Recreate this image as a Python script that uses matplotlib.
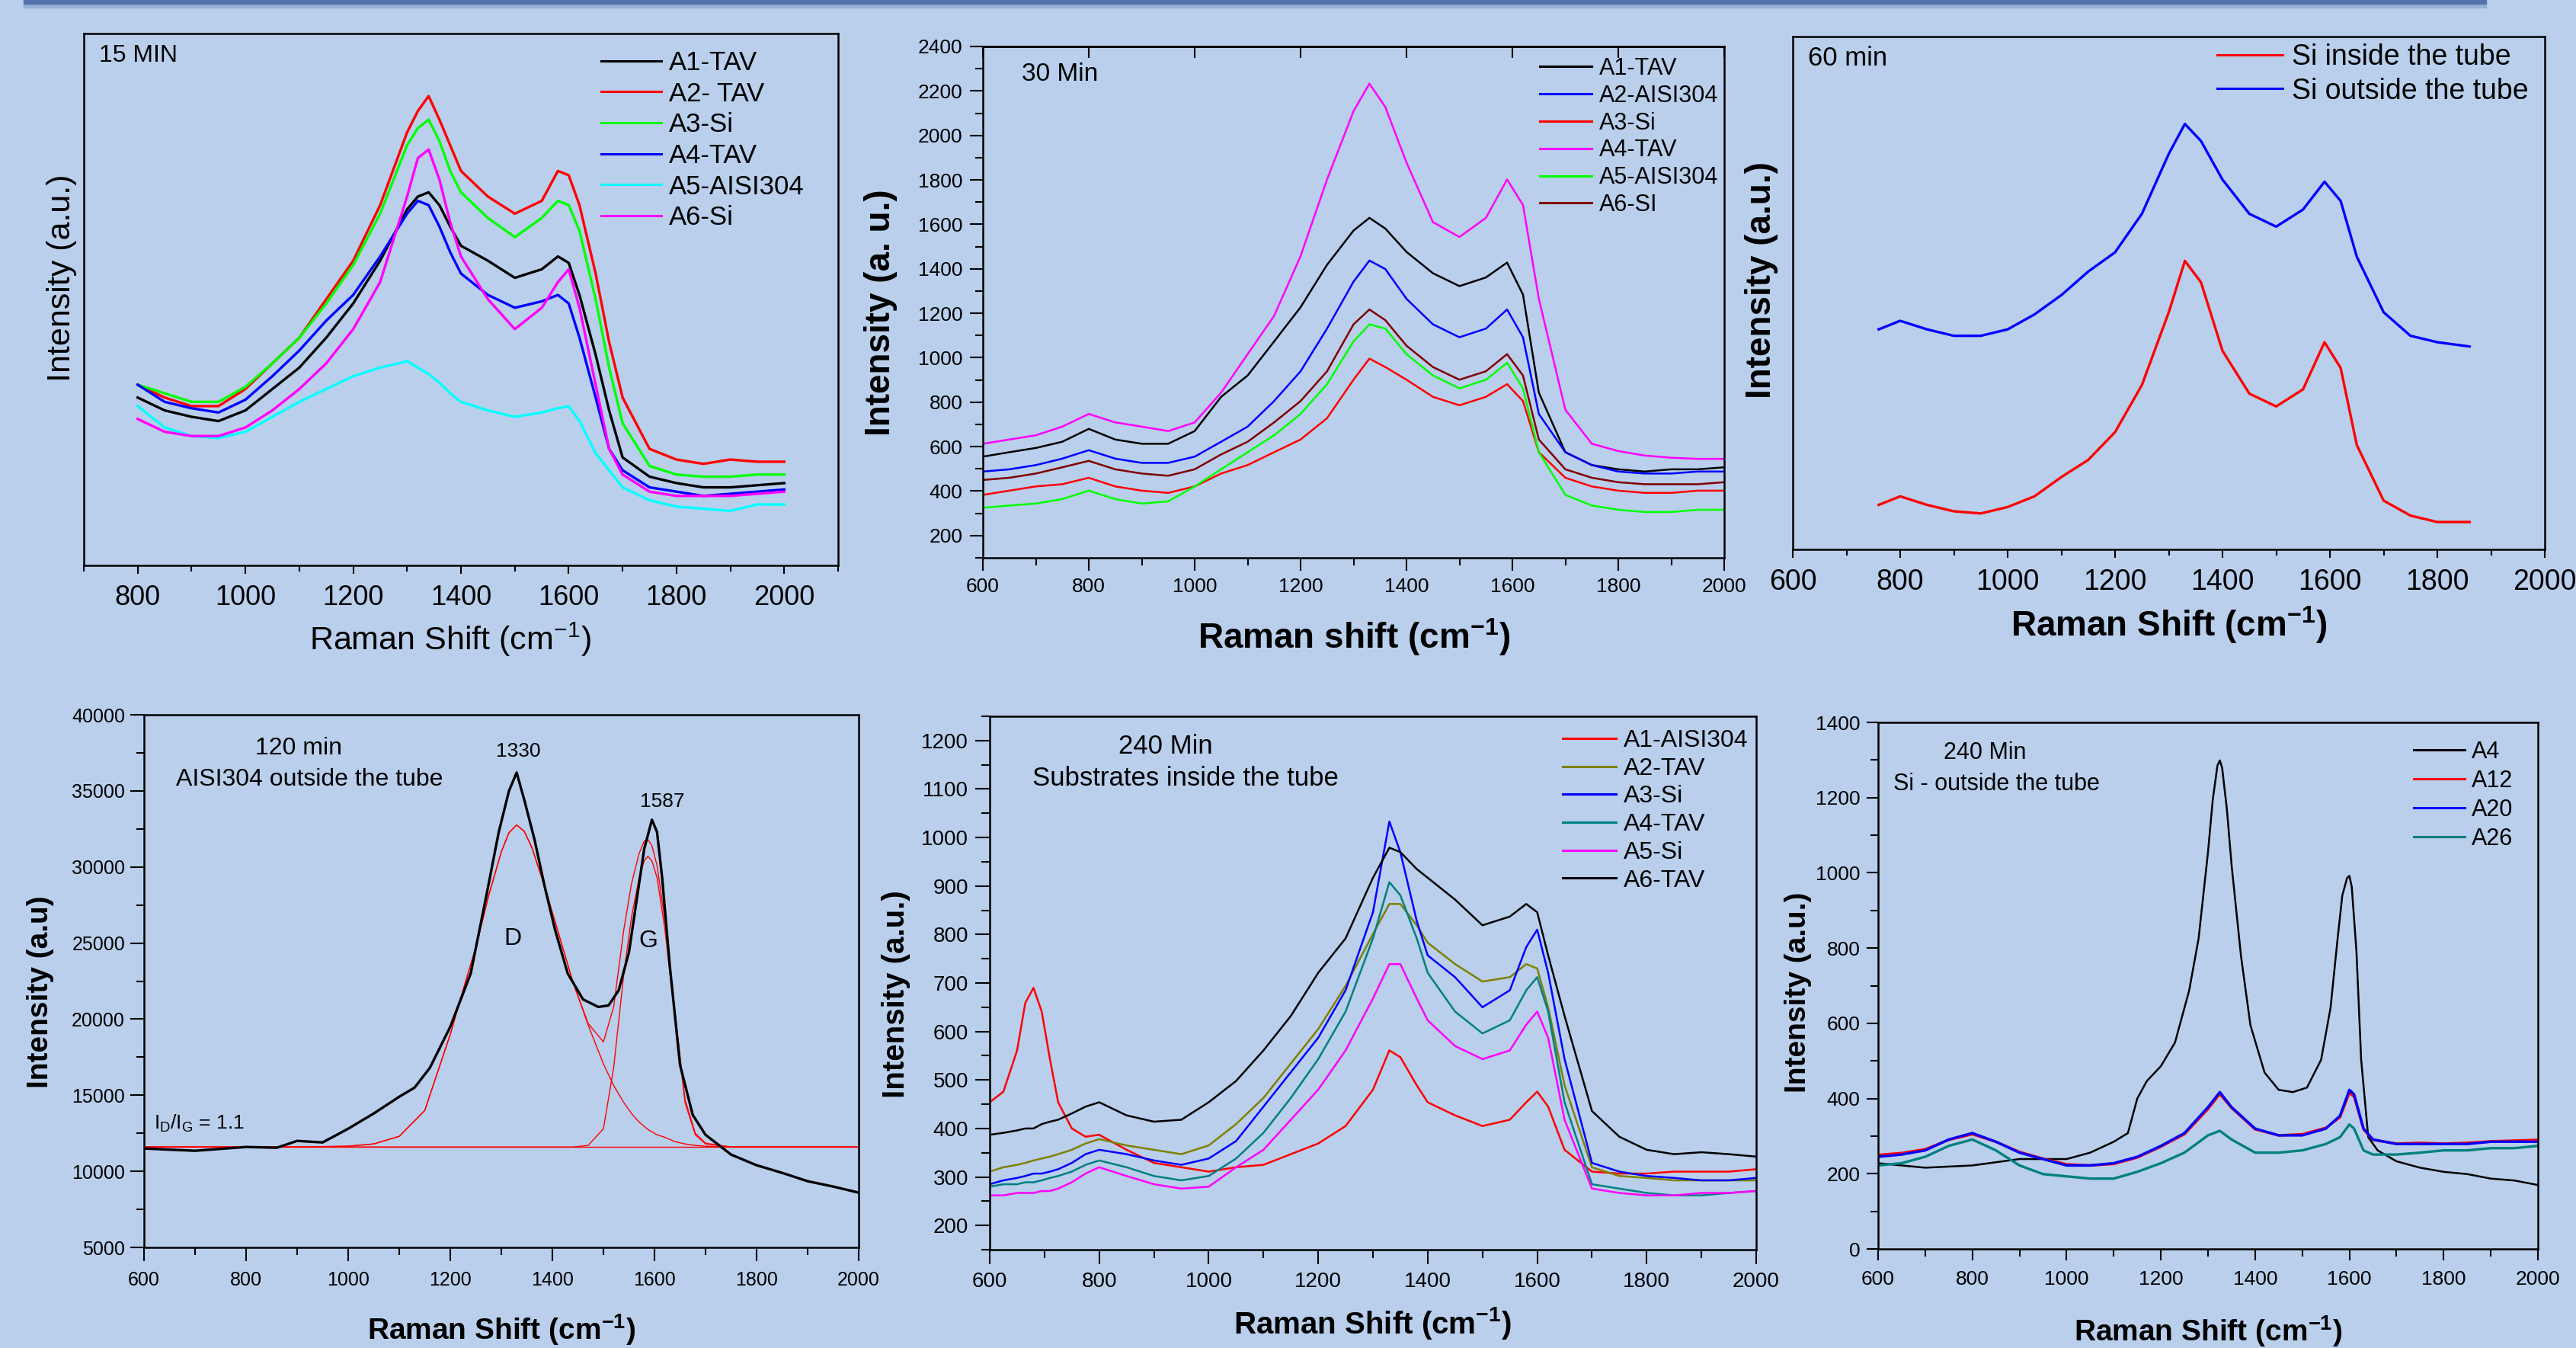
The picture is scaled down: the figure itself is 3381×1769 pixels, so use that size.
import matplotlib
matplotlib.use("Agg")
import matplotlib.pyplot as plt
from matplotlib.patches import Rectangle
from matplotlib.ticker import MultipleLocator, NullLocator

plt.rcParams['font.family'] = ['Liberation Sans', 'DejaVu Sans']
plt.rcParams['mathtext.fontset'] = 'custom'
plt.rcParams['mathtext.rm'] = 'Liberation Sans'
plt.rcParams['mathtext.it'] = 'Liberation Sans:italic'
plt.rcParams['mathtext.bf'] = 'Liberation Sans:bold'

# ---------------- data ----------------
# 15 min (arbitrary units)
p15_x = [800, 850, 900, 950, 1000, 1050, 1100, 1150, 1200, 1250, 1300, 1320, 1340, 1360, 1380, 1400,
         1450, 1500, 1550, 1580, 1600, 1620, 1650, 1675, 1700, 1750, 1800, 1850, 1900, 1950, 2000]
p15_a1 = [314, 290, 278, 270, 290, 330, 370, 426, 490, 570, 666, 690, 698, 674, 634, 598,
          570, 538, 554, 578, 566, 506, 394, 290, 202, 166, 154, 146, 146, 150, 154]
p15_a2 = [338, 314, 298, 298, 330, 378, 426, 498, 570, 674, 810, 850, 878, 834, 786, 738,
          690, 658, 682, 738, 730, 674, 546, 418, 314, 218, 198, 190, 198, 194, 194]
p15_a3 = [338, 322, 306, 306, 334, 378, 426, 490, 562, 658, 786, 818, 834, 794, 738, 698,
          650, 614, 650, 682, 674, 626, 498, 370, 266, 186, 170, 166, 166, 170, 170]
p15_a4 = [338, 306, 294, 286, 310, 354, 402, 458, 506, 578, 658, 682, 674, 634, 586, 546,
          506, 482, 494, 506, 490, 426, 314, 218, 178, 146, 138, 130, 134, 138, 142]
p15_a5 = [298, 258, 242, 238, 250, 278, 306, 330, 354, 370, 382, 370, 358, 342, 322, 306,
          290, 278, 286, 294, 298, 270, 210, 178, 146, 122, 110, 106, 102, 114, 114]
p15_a6 = [274, 250, 242, 242, 258, 290, 330, 378, 442, 530, 690, 762, 778, 722, 642, 578,
          498, 442, 482, 530, 554, 482, 338, 218, 170, 138, 130, 130, 130, 134, 138]
p15_names = ['A1-TAV', 'A2- TAV', 'A3-Si', 'A4-TAV', 'A5-AISI304', 'A6-Si']
p15_colors = ['#000000', '#ff0000', '#00ff00', '#0000ff', '#00ffff', '#ff00ff']

# 30 min
p30_x = [600, 650, 700, 750, 800, 850, 900, 950, 1000, 1050, 1100, 1150, 1200, 1250, 1300, 1330,
         1360, 1400, 1450, 1500, 1550, 1590, 1620, 1650, 1700, 1750, 1800, 1850, 1900, 1950, 2000]
p30_a1 = [555, 575, 594, 622, 680, 632, 613, 613, 670, 824, 920, 1073, 1227, 1418, 1572, 1629,
          1581, 1476, 1380, 1322, 1361, 1428, 1284, 843, 575, 517, 498, 488, 498, 498, 507]
p30_a2 = [488, 498, 517, 546, 584, 546, 527, 527, 555, 622, 690, 805, 939, 1131, 1342, 1437,
          1399, 1265, 1150, 1092, 1131, 1217, 1092, 747, 575, 517, 488, 479, 479, 488, 488]
p30_a3 = [383, 402, 421, 431, 460, 421, 402, 392, 421, 479, 517, 575, 632, 728, 901, 996,
          958, 901, 824, 786, 824, 881, 805, 575, 460, 421, 402, 392, 392, 402, 402]
p30_a4 = [613, 632, 651, 690, 747, 709, 690, 670, 709, 843, 1016, 1188, 1457, 1802, 2109, 2233,
          2128, 1878, 1610, 1543, 1629, 1802, 1687, 1265, 766, 613, 580, 560, 550, 545, 545]
p30_a5 = [325, 335, 344, 364, 402, 364, 344, 354, 421, 498, 575, 651, 747, 881, 1073, 1150,
          1131, 1016, 920, 862, 901, 977, 862, 575, 383, 335, 316, 306, 306, 316, 316]
p30_a6 = [450, 460, 479, 507, 536, 498, 479, 469, 498, 565, 622, 709, 805, 939, 1150, 1217,
          1169, 1054, 958, 901, 939, 1016, 920, 632, 498, 460, 440, 431, 431, 431, 440]
p30_names = ['A1-TAV', 'A2-AISI304', 'A3-Si', 'A4-TAV', 'A5-AISI304', 'A6-SI']
p30_colors = ['#000000', '#0000ff', '#ff0000', '#ff00ff', '#00ff00', '#800000']

# 60 min (arbitrary units)
p60_x = [760, 800, 850, 900, 950, 1000, 1050, 1100, 1150, 1200, 1250, 1300, 1330, 1360, 1400,
         1450, 1500, 1550, 1590, 1620, 1650, 1700, 1750, 1800, 1860]
p60_inside = [104, 124, 104, 89, 84, 99, 124, 169, 209, 274, 384, 554, 674, 624, 464,
              364, 334, 374, 484, 424, 244, 114, 79, 64, 64]
p60_outside = [514, 534, 514, 499, 499, 514, 549, 594, 649, 694, 784, 924, 994, 954, 864,
               784, 754, 794, 859, 814, 684, 554, 499, 484, 474]

# 120 min, AISI304 outside the tube, with D / G fit
p120_x = [600, 700, 800, 860, 900, 950, 1000, 1050, 1100, 1130, 1160, 1200, 1240, 1270, 1295, 1315,
          1330, 1345, 1365, 1385, 1405, 1430, 1460, 1490, 1510, 1530, 1550, 1565, 1580, 1595, 1605,
          1615, 1630, 1650, 1675, 1700, 1750, 1800, 1850, 1900, 1950, 2000]
p120_y = [11500, 11350, 11600, 11550, 12000, 11900, 12800, 13800, 14900, 15500, 16800, 19500, 23000,
          28000, 32300, 35000, 36200, 34400, 31800, 28700, 25900, 23000, 21300, 20800, 20900, 21900,
          24400, 27800, 31200, 33100, 32300, 29300, 23500, 17000, 13700, 12400, 11100, 10400, 9900,
          9350, 9000, 8600]
fit_x = [600, 900, 1000, 1050, 1100, 1150, 1200, 1225, 1250, 1275, 1300, 1315, 1330, 1345, 1360, 1385,
         1410, 1440, 1470, 1500, 1520, 1540, 1555, 1570, 1580, 1587, 1595, 1605, 1620, 1640, 1660,
         1680, 1700, 1750, 2000]
fit_d = [11600, 11600, 11650, 11800, 12300, 14000, 19000, 21900, 24700, 28100, 31000, 32250, 32760,
         32340, 31260, 28700, 25860, 22460, 19620, 17060, 15640, 14510, 13800, 13230, 12950, 12750,
         12600, 12400, 12240, 11950, 11800, 11700, 11650, 11600, 11600]
fit_g = [11600, 11600, 11600, 11600, 11600, 11600, 11600, 11600, 11600, 11600, 11600, 11600, 11600,
         11600, 11600, 11600, 11600, 11600, 11700, 12800, 16800, 23000, 26700, 29300, 30400, 30700,
         30400, 29300, 26000, 20200, 14500, 12400, 11800, 11600, 11600]
fit_sum = [11600, 11600, 11650, 11800, 12300, 14000, 19000, 21900, 24700, 28100, 31000, 32250, 32760,
           32340, 31260, 28700, 25860, 22460, 19720, 18500, 20800, 25900, 28900, 30900, 31700, 31800,
           31400, 30100, 26600, 20500, 14700, 12500, 11850, 11600, 11600]
fit_base_x = [600, 2000]
fit_base = [11600, 11600]

# 240 min, substrates inside the tube
p240i_x = [600, 625, 650, 665, 680, 695, 710, 725, 750, 775, 800, 850, 900, 950, 1000, 1050, 1100,
           1150, 1200, 1250, 1300, 1330, 1350, 1380, 1400, 1450, 1500, 1550, 1580, 1600, 1620, 1650,
           1700, 1750, 1800, 1850, 1900, 1950, 2000]
p240i_a1 = [454, 476, 561, 659, 690, 641, 543, 454, 400, 383, 387, 356, 329, 320, 311, 320, 325,
            347, 369, 405, 480, 561, 547, 489, 454, 427, 405, 418, 454, 476, 445, 356,
            311, 307, 307, 311, 311, 311, 316]
p240i_a2 = [311, 320, 325, 329, 334, 338, 342, 347, 356, 369, 378, 365, 356, 347, 365, 409, 463,
            534, 605, 694, 801, 863, 863, 819, 783, 739, 703, 712, 739, 730, 650, 489,
            320, 302, 298, 293, 293, 293, 293]
p240i_a3 = [285, 293, 298, 302, 307, 307, 311, 316, 329, 347, 356, 347, 334, 325, 338, 374, 445,
            516, 587, 685, 846, 1033, 970, 828, 757, 712, 650, 685, 774, 810, 721, 543,
            329, 311, 302, 298, 293, 293, 298]
p240i_a4 = [280, 285, 285, 289, 289, 293, 298, 302, 311, 325, 334, 320, 302, 293, 302, 338, 391,
            463, 543, 641, 792, 908, 881, 792, 721, 641, 596, 623, 685, 712, 641, 454,
            285, 276, 267, 262, 262, 267, 271]
p240i_a5 = [262, 262, 267, 267, 267, 271, 271, 276, 289, 307, 320, 302, 285, 276, 280, 320, 356,
            418, 480, 561, 668, 739, 739, 668, 623, 570, 543, 561, 614, 641, 587, 418,
            276, 267, 262, 262, 267, 267, 271]
p240i_a6 = [387, 391, 396, 400, 400, 409, 414, 418, 431, 445, 454, 427, 414, 418, 454, 498, 561,
            632, 721, 792, 917, 979, 970, 935, 917, 872, 819, 837, 863, 846, 757, 632,
            436, 383, 356, 347, 351, 347, 342]
p240i_names = ['A1-AISI304', 'A2-TAV', 'A3-Si', 'A4-TAV', 'A5-Si', 'A6-TAV']
p240i_colors = ['#ff0000', '#808000', '#0000ff', '#008080', '#ff00ff', '#000000']

# 240 min, Si outside the tube
p240o_a4_x = [600, 700, 800, 900, 1000, 1050, 1100, 1130, 1150, 1170, 1200, 1230, 1260, 1280, 1300,
              1310, 1320, 1325, 1330, 1340, 1350, 1370, 1390, 1420, 1450, 1480, 1510, 1540, 1560,
              1575, 1585, 1595, 1600, 1605, 1615, 1625, 1640, 1660, 1700, 1750, 1800, 1850, 1900,
              1950, 2000]
p240o_a4 = [228, 216, 222, 239, 239, 256, 285, 308, 400, 446, 486, 549, 687, 825, 1055,
            1193, 1285, 1299, 1279, 1170, 1021, 779, 595, 469, 423, 417, 429, 503, 641,
            825, 940, 986, 992, 963, 791, 503, 297, 262, 233, 216, 205, 199, 187, 182, 170]
p240o_x = [600, 650, 700, 750, 800, 850, 900, 950, 1000, 1050, 1100, 1150, 1200, 1250, 1300, 1325,
           1350, 1400, 1450, 1500, 1550, 1580, 1600, 1610, 1630, 1650, 1700, 1750, 1800, 1850, 1900,
           1950, 2000]
p240o_a12 = [250, 255, 265, 290, 305, 285, 258, 240, 225, 222, 226, 243, 272, 305, 372, 412,
             375, 318, 302, 305, 322, 350, 415, 405, 318, 290, 280, 282, 280, 282, 286, 288, 290]
p240o_a20 = [245, 251, 262, 291, 308, 285, 256, 239, 222, 222, 228, 245, 274, 308, 377, 417,
             377, 320, 302, 302, 320, 354, 423, 411, 320, 291, 279, 279, 279, 279, 285, 285, 285]
p240o_a26 = [222, 228, 245, 274, 291, 262, 222, 199, 193, 187, 187, 205, 228, 256, 302, 314,
             291, 256, 256, 262, 279, 297, 331, 320, 262, 251, 251, 256, 262, 262, 268, 268, 274]

# ---------------- layout (pixel boxes: left, top, right, bottom) ----------------
W, H = 3381, 1769
BG = '#b9cfec'
BOX1 = (110, 44, 1100, 742)
BOX2 = (1290, 61, 2263, 732)
BOX3 = (2353, 48, 3340, 721)
BOX4 = (189, 938, 1127, 1637)
BOX5 = (1299, 940, 2305, 1640)
BOX6 = (2465, 948, 3331, 1639)

fig = plt.figure(figsize=(W / 100, H / 100), dpi=100, facecolor=BG)

# dark strip at the top of the slide
fig.patches.append(Rectangle((31 / W, 1 - 10 / H), (3263 - 31) / W, 5 / H,
                             transform=fig.transFigure, color='#97b0d6', zorder=0))
fig.patches.append(Rectangle((31 / W, 1 - 5 / H), (3263 - 31) / W, 5 / H,
                             transform=fig.transFigure, color='#5272a8', zorder=1))


def make_axes(box):
    l, t, r, b = box
    ax = fig.add_axes([l / W, 1 - b / H, (r - l) / W, (b - t) / H])
    ax.set_facecolor('none')
    for s in ax.spines.values():
        s.set_linewidth(1.8)
    return ax


def frac(box, x, y):
    l, t, r, b = box
    return (x - l) / (r - l), (b - y) / (b - t)


def labels(ax, box, xl, yl, xpos, ypos, size, weight):
    ax.set_xlabel(xl, fontsize=size, fontweight=weight)
    ax.set_ylabel(yl, fontsize=size, fontweight=weight)
    ax.xaxis.label.set_va('center')
    ax.yaxis.label.set_va('center')
    ax.xaxis.set_label_coords(*frac(box, *xpos))
    ax.yaxis.set_label_coords(*frac(box, *ypos))


def legend(ax, x, y, fs, ls, hl, hp):
    leg = ax.legend(loc='upper left', bbox_to_anchor=(x / W, 1 - y / H), bbox_transform=fig.transFigure,
                    frameon=False, fontsize=fs, labelspacing=ls, handlelength=hl, handletextpad=hp,
                    borderpad=0, borderaxespad=0)
    for line in leg.get_lines():
        line.set_linewidth(2.2)


def note(ax, box, x, y, s, size, ha='center'):
    ax.text(*frac(box, x, y), s, transform=ax.transAxes, fontsize=size, ha=ha, va='center')


def ticks(ax, xlab, ylab, xpad, ypad, majlen, minlen):
    ax.tick_params(which='both', direction='out', width=1.5, top=False, right=False)
    ax.tick_params(which='major', length=majlen)
    ax.tick_params(which='minor', length=minlen)
    ax.tick_params(axis='x', labelsize=xlab, pad=xpad)
    ax.tick_params(axis='y', labelsize=ylab, pad=ypad)


XLAB_REG = 'Raman Shift (cm$^{-1}$)'
XLAB_BOLD = r'Raman Shift (cm$^{\mathbf{-1}}$)'

# ---- 15 min ----
ax1 = make_axes(BOX1)
for name, ys, c in zip(p15_names, [p15_a1, p15_a2, p15_a3, p15_a4, p15_a5, p15_a6], p15_colors):
    ax1.plot(p15_x, ys, color=c, lw=2.4, label=name)
ax1.set_xlim(700, 2100)
ax1.set_ylim(0, 995)
ax1.xaxis.set_major_locator(MultipleLocator(200))
ax1.xaxis.set_minor_locator(MultipleLocator(100))
ax1.yaxis.set_major_locator(NullLocator())
ticks(ax1, 26, 26, 10, 5, 8, 6)
labels(ax1, BOX1, XLAB_REG, 'Intensity (a.u.)', (591, 839), (81, 365), 31, 'normal')
legend(ax1, 789, 66, 25, 0.22, 2.28, 0.29)
note(ax1, BOX1, 130, 73, '15 MIN', 23, ha='left')

# ---- 30 min ----
ax2 = make_axes(BOX2)
for name, ys, c in zip(p30_names, [p30_a1, p30_a2, p30_a3, p30_a4, p30_a5, p30_a6], p30_colors):
    ax2.plot(p30_x, ys, color=c, lw=1.8, label=name)
ax2.set_xlim(600, 2000)
ax2.set_ylim(100, 2400)
ax2.xaxis.set_major_locator(MultipleLocator(200))
ax2.xaxis.set_minor_locator(MultipleLocator(100))
ax2.yaxis.set_major_locator(MultipleLocator(200))
ax2.yaxis.set_minor_locator(MultipleLocator(100))
ticks(ax2, 19, 19, 7, 7, 12, 7)
top2 = ax2.secondary_xaxis('top')
top2.xaxis.set_major_locator(MultipleLocator(200))
top2.tick_params(direction='in', length=11, width=1.5, labeltop=False)
top2.spines['top'].set_linewidth(1.8)
labels(ax2, BOX2, r'Raman shift (cm$^{\mathbf{-1}}$)', 'Intensity (a. u.)', (1777, 836), (1156, 410), 33, 'bold')
legend(ax2, 2021, 75, 22, 0.19, 2.22, 0.33)
note(ax2, BOX2, 1341, 97, '30 Min', 24, ha='left')

# ---- 60 min ----
ax3 = make_axes(BOX3)
ax3.plot(p60_x, p60_inside, color='#ff0000', lw=2.4, label='Si inside the tube')
ax3.plot(p60_x, p60_outside, color='#0000ff', lw=2.4, label='Si outside the tube')
ax3.set_xlim(600, 2000)
ax3.set_ylim(0, 1198)
ax3.xaxis.set_major_locator(MultipleLocator(200))
ax3.xaxis.set_minor_locator(MultipleLocator(100))
ax3.yaxis.set_major_locator(NullLocator())
ticks(ax3, 27, 27, 10, 5, 8, 6)
labels(ax3, BOX3, XLAB_BOLD, 'Intensity (a.u.)', (2847, 820), (2312, 368), 33, 'bold')
legend(ax3, 2910, 57, 27, 0.23, 2.3, 0.32)
note(ax3, BOX3, 2373, 76, '60 min', 25, ha='left')

# ---- 120 min ----
ax4 = make_axes(BOX4)
ax4.plot(fit_base_x, fit_base, color='#ff0000', lw=1.0)
ax4.plot(fit_x, fit_d, color='#ff0000', lw=1.0)
ax4.plot(fit_x, fit_g, color='#ff0000', lw=1.0)
ax4.plot(fit_x, fit_sum, color='#ff0000', lw=1.0)
ax4.plot(p120_x, p120_y, color='#000000', lw=2.4)
ax4.set_xlim(600, 2000)
ax4.set_ylim(5000, 40000)
ax4.xaxis.set_major_locator(MultipleLocator(200))
ax4.xaxis.set_minor_locator(MultipleLocator(100))
ax4.yaxis.set_major_locator(MultipleLocator(5000))
ax4.yaxis.set_minor_locator(MultipleLocator(2500))
ticks(ax4, 18, 18, 9, 5, 13, 7)
labels(ax4, BOX4, XLAB_BOLD, 'Intensity (a.u)', (658, 1745), (53, 1302), 28, 'bold')
note(ax4, BOX4, 392, 982, '120 min', 23)
note(ax4, BOX4, 406, 1023, 'AISI304 outside the tube', 23)
note(ax4, BOX4, 680, 986, '1330', 19)
note(ax4, BOX4, 869, 1052, '1587', 19)
note(ax4, BOX4, 673, 1232, 'D', 23)
note(ax4, BOX4, 851, 1235, 'G', 23)
note(ax4, BOX4, 202, 1474, r'I$_\mathregular{D}$/I$_\mathregular{G}$ = 1.1', 19, ha='left')

# ---- 240 min inside ----
ax5 = make_axes(BOX5)
for name, ys, c in zip(p240i_names, [p240i_a1, p240i_a2, p240i_a3, p240i_a4, p240i_a5, p240i_a6],
                       p240i_colors):
    ax5.plot(p240i_x, ys, color=c, lw=1.8, label=name)
ax5.set_xlim(600, 2000)
ax5.set_ylim(150, 1250)
ax5.xaxis.set_major_locator(MultipleLocator(200))
ax5.xaxis.set_minor_locator(MultipleLocator(100))
ax5.yaxis.set_major_locator(MultipleLocator(100))
ax5.yaxis.set_minor_locator(MultipleLocator(50))
ticks(ax5, 20, 20, 7, 6, 14, 8)
labels(ax5, BOX5, XLAB_BOLD, 'Intensity (a.u.)', (1801, 1736), (1176, 1305), 29, 'bold')
legend(ax5, 2051, 957, 23, 0.21, 2.2, 0.31)
note(ax5, BOX5, 1530, 979, '240 Min', 25)
note(ax5, BOX5, 1556, 1021, 'Substrates inside the tube', 25)

# ---- 240 min outside ----
ax6 = make_axes(BOX6)
ax6.plot(p240o_a4_x, p240o_a4, color='#000000', lw=1.8, label='A4')
ax6.plot(p240o_x, p240o_a12, color='#ff0000', lw=2.4, label='A12')
ax6.plot(p240o_x, p240o_a20, color='#0000ff', lw=2.4, label='A20')
ax6.plot(p240o_x, p240o_a26, color='#008080', lw=2.4, label='A26')
ax6.set_xlim(600, 2000)
ax6.set_ylim(0, 1400)
ax6.xaxis.set_major_locator(MultipleLocator(200))
ax6.xaxis.set_minor_locator(MultipleLocator(100))
ax6.yaxis.set_major_locator(MultipleLocator(200))
ax6.yaxis.set_minor_locator(MultipleLocator(100))
ticks(ax6, 19, 19, 9, 6, 11, 7)
labels(ax6, BOX6, XLAB_BOLD, 'Intensity (a.u.)', (2898, 1747), (2360, 1302), 28, 'bold')
legend(ax6, 3168, 972, 22, 0.26, 2.2, 0.29)
note(ax6, BOX6, 2605, 988, '240 Min', 22)
note(ax6, BOX6, 2620, 1029, 'Si - outside the tube', 22)

fig.savefig('out.png', dpi=100, facecolor=BG)
